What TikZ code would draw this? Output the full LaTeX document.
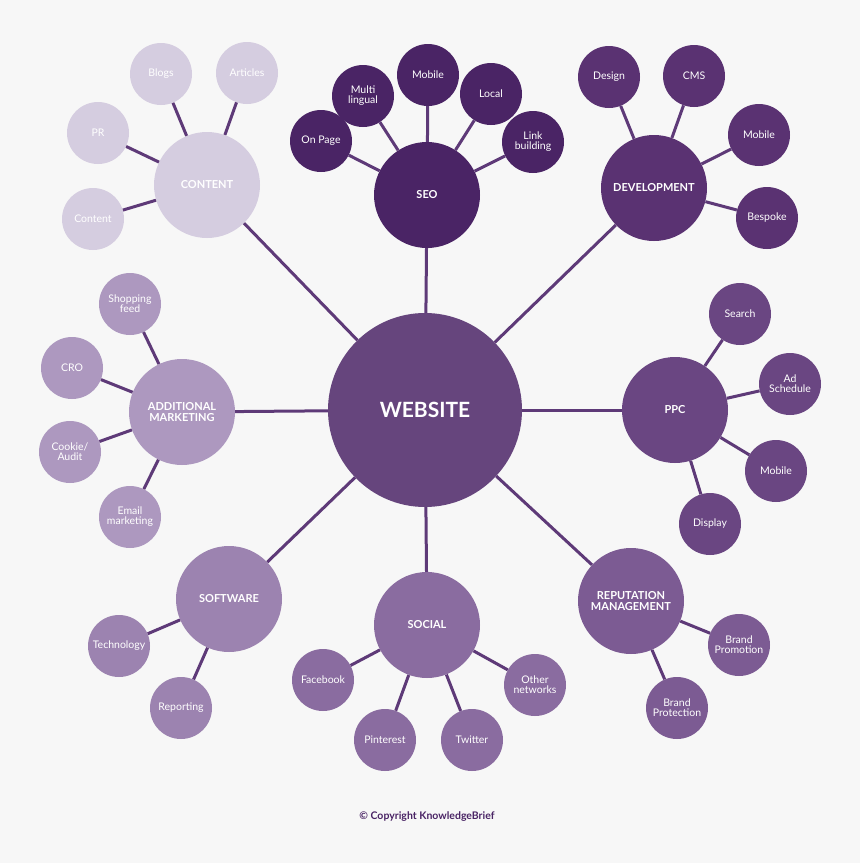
\documentclass[tikz,border=0pt]{standalone}
\usepackage{fontspec}
\setmainfont{Lato}
\definecolor{bg}{HTML}{F7F7F7}
\definecolor{ln}{HTML}{5E3A78}
\definecolor{cW}{HTML}{66457D}
\definecolor{cSEO}{HTML}{4A2465}
\definecolor{cDEV}{HTML}{5A3272}
\definecolor{cPPC}{HTML}{6A4682}
\definecolor{cREP}{HTML}{7C5B93}
\definecolor{cSOC}{HTML}{8A6CA0}
\definecolor{cSW}{HTML}{9C83B0}
\definecolor{cAM}{HTML}{AD98BF}
\definecolor{cCON}{HTML}{D5CDE0}
\tikzset{
 hub/.style={circle,minimum size=106pt,inner sep=0pt,text=white,font=\fontsize{11}{11.5}\selectfont\bfseries,align=center},
 sat/.style={circle,minimum size=62pt,inner sep=0pt,text=white,font=\fontsize{10.5}{10}\selectfont,align=center},
 spoke/.style={draw=ln,line width=3pt}
}
\begin{document}
\begin{tikzpicture}[x=1pt,y=-1pt]
\fill[bg] (0,0) rectangle (860,863);
\node[circle,minimum size=194pt,inner sep=0pt,fill=cW,text=white,font=\fontsize{21}{22}\selectfont\bfseries] (w) at (425,410) {WEBSITE};
% SEO
\node[hub,fill=cSEO] (seo) at (427,195) {SEO};
\node[sat,fill=cSEO] (s1) at (321,141) {On Page};
\node[sat,fill=cSEO] (s2) at (363,96) {Multi\\lingual};
\node[sat,fill=cSEO] (s3) at (428,75) {Mobile};
\node[sat,fill=cSEO] (s4) at (491,94) {Local};
\node[sat,fill=cSEO] (s5) at (533,142) {Link\\building};
% DEV
\node[hub,fill=cDEV] (dev) at (654,188) {DEVELOPMENT};
\node[sat,fill=cDEV] (d1) at (609,77) {Design};
\node[sat,fill=cDEV] (d2) at (694,76) {CMS};
\node[sat,fill=cDEV] (d3) at (759,135) {Mobile};
\node[sat,fill=cDEV] (d4) at (767,218) {Bespoke};
% PPC
\node[hub,fill=cPPC] (ppc) at (675,410) {PPC};
\node[sat,fill=cPPC] (p1) at (740,314) {Search};
\node[sat,fill=cPPC] (p2) at (790,384) {Ad\\Schedule};
\node[sat,fill=cPPC] (p3) at (776,471) {Mobile};
\node[sat,fill=cPPC] (p4) at (710,524) {Display};
% REP
\node[hub,fill=cREP] (rep) at (631,601) {REPUTATION\\MANAGEMENT};
\node[sat,fill=cREP] (r1) at (739,645) {Brand\\Promotion};
\node[sat,fill=cREP] (r2) at (677,708) {Brand\\Protection};
% SOCIAL
\node[hub,fill=cSOC] (soc) at (427,625) {SOCIAL};
\node[sat,fill=cSOC] (o1) at (323,680) {Facebook};
\node[sat,fill=cSOC] (o2) at (385,740) {Pinterest};
\node[sat,fill=cSOC] (o3) at (472,740) {Twitter};
\node[sat,fill=cSOC] (o4) at (535,685) {Other\\networks};
% SOFTWARE
\node[hub,fill=cSW] (sw) at (229,599) {SOFTWARE};
\node[sat,fill=cSW] (w1) at (119,646) {Technology};
\node[sat,fill=cSW] (w2) at (181,708) {Reporting};
% AM
\node[hub,fill=cAM] (am) at (182,412) {ADDITIONAL\\MARKETING};
\node[sat,fill=cAM] (a1) at (130,304) {Shopping\\feed};
\node[sat,fill=cAM] (a2) at (72,368) {CRO};
\node[sat,fill=cAM] (a3) at (70,452) {Cookie/\\Audit};
\node[sat,fill=cAM] (a4) at (130,517) {Email\\marketing};
% CONTENT
\node[hub,fill=cCON] (con) at (207,185) {CONTENT};
\node[sat,fill=cCON] (c1) at (161,74) {Blogs};
\node[sat,fill=cCON] (c2) at (247,73) {Articles};
\node[sat,fill=cCON] (c3) at (98,133) {PR};
\node[sat,fill=cCON] (c4) at (93,219) {Content};
% spokes
\foreach \h in {seo,dev,ppc,rep,soc,sw,am,con} \draw[spoke] (w)--(\h);
\foreach \s in {s1,s2,s3,s4,s5} \draw[spoke] (seo)--(\s);
\foreach \s in {d1,d2,d3,d4} \draw[spoke] (dev)--(\s);
\foreach \s in {p1,p2,p3,p4} \draw[spoke] (ppc)--(\s);
\foreach \s in {r1,r2} \draw[spoke] (rep)--(\s);
\foreach \s in {o1,o2,o3,o4} \draw[spoke] (soc)--(\s);
\foreach \s in {w1,w2} \draw[spoke] (sw)--(\s);
\foreach \s in {a1,a2,a3,a4} \draw[spoke] (am)--(\s);
\foreach \s in {c1,c2,c3,c4} \draw[spoke] (con)--(\s);
\node[font=\fontsize{10.5}{10}\selectfont\bfseries,text=cSEO] (cp) at (427,817) {\textcopyright{} Copyright KnowledgeBrief};
\end{tikzpicture}
\end{document}
